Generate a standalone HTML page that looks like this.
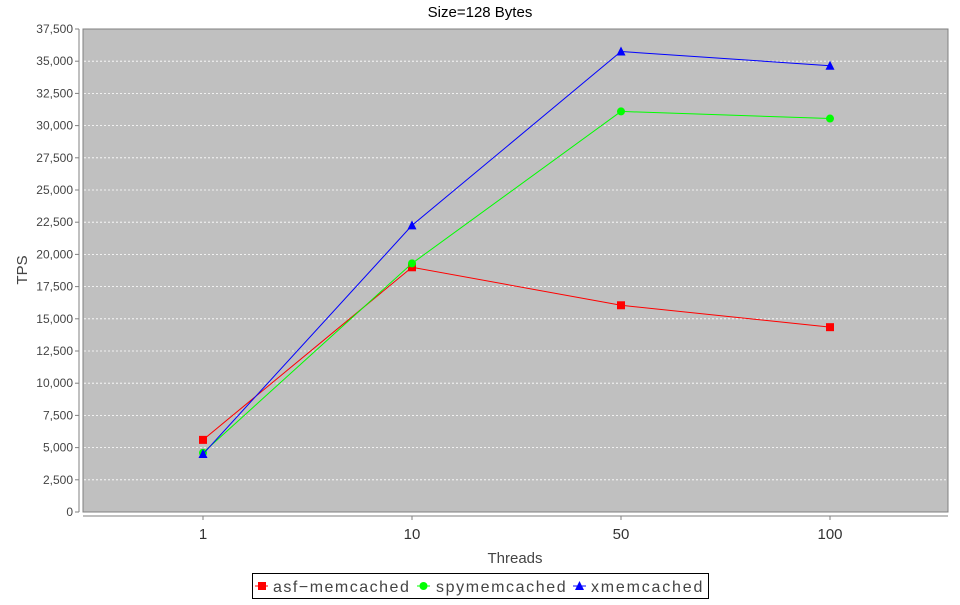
<!DOCTYPE html>
<html><head><meta charset="utf-8"><style>
body{margin:0;background:#fff;}
svg text{font-family:"Liberation Sans",sans-serif;}
</style></head><body>
<svg id="c" width="960" height="600" xmlns="http://www.w3.org/2000/svg">
<text x="480" y="17" text-anchor="middle" font-size="15" fill="#000">Size=128 Bytes</text>
<rect x="83" y="29" width="865" height="483" fill="#c0c0c0" stroke="#808080"/>
<g id="grid"></g><g id="yax"></g><g id="xax"></g><g id="series"></g>
<text x="515" y="563" text-anchor="middle" font-size="15" fill="#444">Threads</text>
<text transform="translate(27,270) rotate(-90)" text-anchor="middle" font-size="15" fill="#444">TPS</text>
<g>
<rect x="252.5" y="573.5" width="456" height="25" fill="#fff" stroke="#000"/>
<line x1="255" y1="586" x2="268" y2="586" stroke="#f00"/><rect x="258" y="582" width="8" height="8" fill="#f00"/>
<text x="273" y="592" font-size="16" letter-spacing="1.5" fill="#444">asf−memcached</text>
<line x1="417" y1="586" x2="430" y2="586" stroke="#0f0"/><circle cx="423.5" cy="586" r="4" fill="#0f0"/>
<text x="436" y="592" font-size="16" letter-spacing="1.6" fill="#444">spymemcached</text>
<line x1="573" y1="586" x2="586" y2="586" stroke="#00f"/><path d="M579.5,581 L584,590 L575,590Z" fill="#00f"/>
<text x="591" y="592" font-size="16" letter-spacing="1.8" fill="#444">xmemcached</text>
</g>
</svg>
<script>
const categories=["1","10","50","100"];
const asf=[5600,19000,16050,14350];
const spy=[4600,19300,31100,30550];
const xmem=[4500,22250,35750,34650];
const yTicks=[0,2500,5000,7500,10000,12500,15000,17500,20000,22500,25000,27500,30000,32500,35000,37500];
const NS="http://www.w3.org/2000/svg";
const y=v=>512-v/37500*483;
const x=i=>203+i*209;
function mk(p,t,a){const e=document.createElementNS(NS,t);for(const k in a)e.setAttribute(k,a[k]);document.getElementById(p).appendChild(e);return e;}
yTicks.forEach(v=>{
  if(v>0&&v<37500){const g=mk('grid','line',{x1:84,x2:947,y1:y(v),y2:y(v),stroke:'#fff','stroke-dasharray':'2,2','stroke-width':0.8});
  
  }
  mk('yax','line',{x1:75,x2:79,y1:y(v),y2:y(v),stroke:'#808080'});
  const t=mk('yax','text',{x:73,y:y(v)+4,'text-anchor':'end','font-size':12,fill:'#444'});
  t.textContent=v.toLocaleString('en-US');
  
  
});
mk('yax','line',{x1:79,x2:79,y1:29,y2:512,stroke:'#808080'});
mk('xax','line',{x1:83,x2:948,y1:516,y2:516,stroke:'#808080'});
categories.forEach((c,i)=>{
  mk('xax','line',{x1:x(i),x2:x(i),y1:516,y2:520,stroke:'#808080'});
  const t=mk('xax','text',{x:x(i),y:539,'text-anchor':'middle','font-size':15,fill:'#333'});
  t.textContent=c;
  
  
});
function series(name,data,color,shape){
  const l=mk('series','polyline',{points:data.map((v,i)=>x(i)+','+y(v)).join(' '),fill:'none',stroke:color});
  
  
  data.forEach((v,i)=>{let m;
    if(shape=='sq')m=mk('series','rect',{x:x(i)-4,y:y(v)-4,width:8,height:8,fill:color});
    else if(shape=='c')m=mk('series','circle',{cx:x(i),cy:y(v),r:4,fill:color});
    else m=mk('series','path',{d:`M${x(i)},${y(v)-5} L${x(i)+4.5},${y(v)+4} L${x(i)-4.5},${y(v)+4}Z`,fill:color});
    
    
  });
}
series('asf-memcached',asf,'#f00','sq');
series('spymemcached',spy,'#0f0','c');
series('xmemcached',xmem,'#00f','t');
</script>
</body></html>
